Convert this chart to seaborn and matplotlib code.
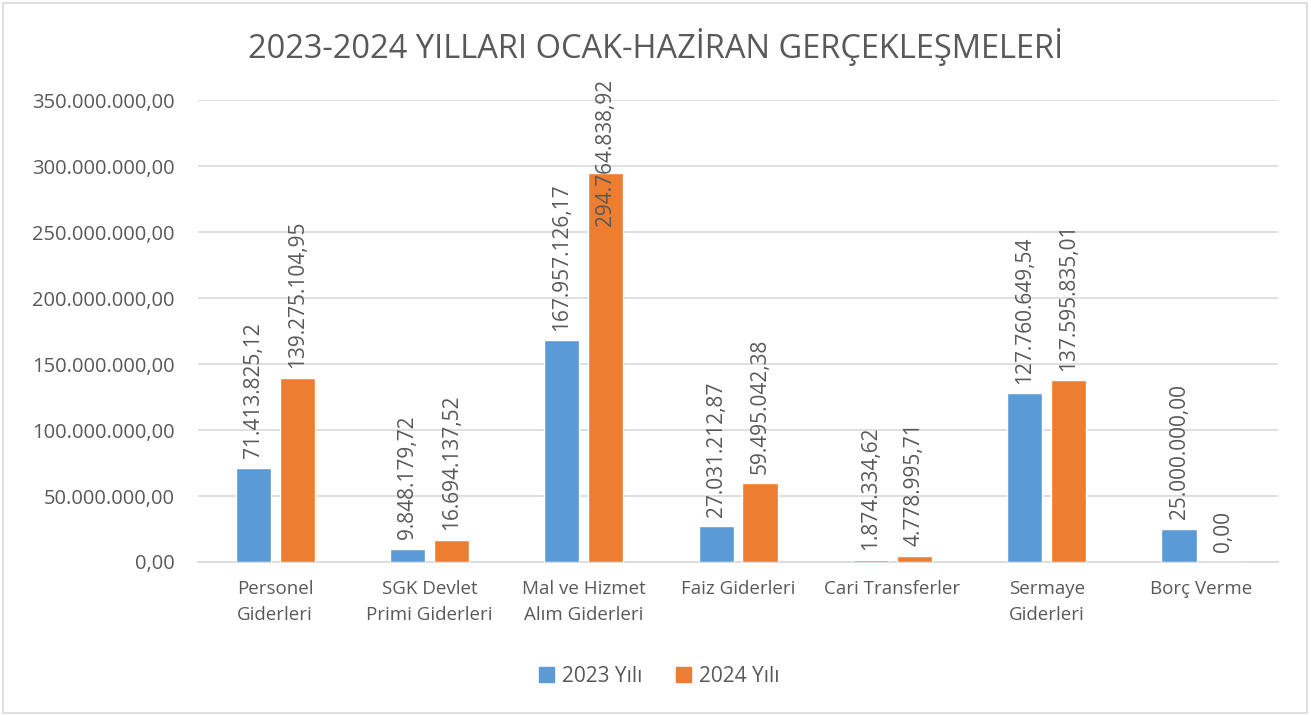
import matplotlib
matplotlib.use('Agg')
import matplotlib.pyplot as plt
from matplotlib.patches import Rectangle
import seaborn as sns
import pandas as pd
from decimal import Decimal

# categories
categories = ['Personel\nGiderleri', 'SGK Devlet\nPrimi Giderleri', 'Mal ve Hizmet\nAlım Giderleri',
              'Faiz Giderleri', 'Cari Transferler', 'Sermaye\nGiderleri', 'Borç Verme']
series_names = ['2023 Yılı', '2024 Yılı']
values_2023 = [71413825.12, 9848179.72, 167957126.17, 27031212.87, 1874334.62, 127760649.54, 25000000.00]
values_2024 = [139275104.95, 16694137.52, 294764838.92, 59495042.38, 4778995.71, 137595835.01, 0.00]
y_ticks = [0, 50e6, 100e6, 150e6, 200e6, 250e6, 300e6, 350e6]
title = '2023-2024 YILLARI OCAK-HAZİRAN GERÇEKLEŞMELERİ'


def tr_format(v):
    # turkish number format: 1.234.567,89
    s = '{:,.2f}'.format(Decimal(repr(v)))
    return s.replace(',', '#').replace('.', ',').replace('#', '.')


def main():
    df = pd.DataFrame({
        'kategori': categories * 2,
        'seri': [series_names[0]] * len(categories) + [series_names[1]] * len(categories),
        'deger': values_2023 + values_2024,
    })

    sns.set_style('white')
    plt.rcParams['font.family'] = ['Open Sans', 'DejaVu Sans']
    text_color = '#595959'
    grid_color = '#D9D9D9'
    colors = ['#5B9BD5', '#ED7D31']

    fig = plt.figure(figsize=(13.11, 7.15), dpi=100)
    ax = fig.add_axes([0.151, 0.214, 0.824, 0.646])

    sns.barplot(data=df, x='kategori', y='deger', hue='seri', palette=colors,
                width=0.57, gap=0.2, ax=ax, legend=False, saturation=1)
    for p in ax.patches:
        p.set_zorder(3)

    ax.set_ylim(0, 350e6)
    ax.set_xlim(-0.5, len(categories) - 0.5)
    ax.set_yticks(y_ticks)
    ax.set_yticklabels([tr_format(t) for t in y_ticks], color=text_color, fontsize=14.5)
    ax.tick_params(axis='y', length=0, pad=17)
    ax.tick_params(axis='x', length=0, pad=13, labelsize=13.5, labelcolor=text_color)
    for lbl in ax.get_xticklabels():
        lbl.set_linespacing(1.55)
    ax.set_xlabel('')
    ax.set_ylabel('')
    ax.yaxis.grid(True, color=grid_color, linewidth=1.2)
    ax.set_axisbelow(True)
    for side in ['left', 'right', 'top']:
        ax.spines[side].set_visible(False)
    ax.spines['bottom'].set_color(grid_color)
    ax.spines['bottom'].set_linewidth(1.2)

    # value labels
    for cont, vals in zip(ax.containers, [values_2023, values_2024]):
        for bar, v in zip(cont, vals):
            xc = bar.get_x() + bar.get_width() / 2
            if v > 250e6:
                ax.text(xc, 1.045, tr_format(v), transform=ax.get_xaxis_transform(),
                        rotation=90, ha='center', va='top', fontsize=15, color=text_color,
                        clip_on=False, zorder=4)
            else:
                ax.annotate(tr_format(v), (xc, v), xytext=(0, 7), textcoords='offset points',
                            rotation=90, ha='center', va='bottom', fontsize=15, color=text_color)

    fig.text(0.5, 0.934, title, ha='center', va='center', fontsize=23.5, color=text_color)

    handles = [Rectangle((0, 0), 1, 1, color=c) for c in colors]
    fig.legend(handles, series_names, loc='center', bbox_to_anchor=(0.503, 0.054), ncol=2,
               frameon=False, fontsize=15, labelcolor=text_color, handlelength=0.7,
               handleheight=0.7, handletextpad=0.4, columnspacing=1.6)

    fig.patches.append(Rectangle((0.002, 0.003), 0.995, 0.993, transform=fig.transFigure,
                                 fill=False, edgecolor=grid_color, linewidth=1.2))

    fig.savefig('out.png', dpi=100)


if __name__ == "__main__":
    main()
